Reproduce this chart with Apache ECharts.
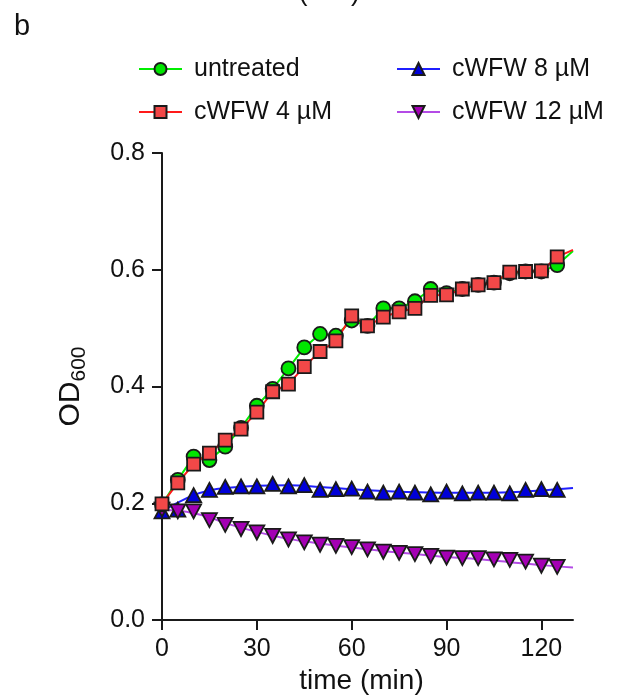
<!DOCTYPE html>
<html>
<head>
<meta charset="utf-8">
<script src="https://cdn.jsdelivr.net/npm/echarts@6/dist/echarts.min.js"></script>
<style>
  html, body { margin: 0; padding: 0; background: #fff; }
  #chart { width: 621px; height: 697px; }
</style>
</head>
<body>
<div id="chart"></div>
<script>
// Sampling times (min) for the measured points
const time = [0, 5, 10, 15, 20, 25, 30, 35, 40, 45, 50, 55, 60, 65, 70, 75, 80, 85, 90, 95, 100, 105, 110, 115, 120, 125];

// Measured OD600 values
const untreated = [0.198, 0.240, 0.280, 0.274, 0.297, 0.329, 0.367, 0.396, 0.431, 0.467, 0.490, 0.487, 0.513, 0.504, 0.534, 0.534, 0.546, 0.567, 0.560, 0.567, 0.574, 0.578, 0.594, 0.597, 0.597, 0.608];
const cwfw4 = [0.199, 0.235, 0.267, 0.286, 0.308, 0.327, 0.356, 0.391, 0.404, 0.434, 0.460, 0.478, 0.521, 0.504, 0.519, 0.528, 0.534, 0.556, 0.557, 0.567, 0.574, 0.578, 0.596, 0.597, 0.598, 0.622];
const cwfw8 = [0.186, 0.189, 0.214, 0.223, 0.228, 0.229, 0.229, 0.233, 0.229, 0.231, 0.223, 0.224, 0.225, 0.220, 0.218, 0.220, 0.218, 0.215, 0.220, 0.217, 0.218, 0.218, 0.217, 0.223, 0.224, 0.223];
const cwfw12 = [0.189, 0.186, 0.186, 0.171, 0.163, 0.156, 0.150, 0.144, 0.138, 0.133, 0.129, 0.127, 0.125, 0.121, 0.117, 0.115, 0.113, 0.110, 0.107, 0.106, 0.106, 0.104, 0.103, 0.100, 0.093, 0.091];

// Trend curves (to 130 min)
const curveTime = [0, 5, 10, 15, 20, 30, 40, 50, 60, 70, 80, 90, 100, 110, 120, 130];
const curve8 = [0.186, 0.201, 0.214, 0.222, 0.226, 0.230, 0.231, 0.228, 0.224, 0.221, 0.219, 0.218, 0.218, 0.219, 0.222, 0.226];
const curve12 = [0.189, 0.187, 0.183, 0.176, 0.166, 0.151, 0.139, 0.131, 0.124, 0.118, 0.113, 0.108, 0.104, 0.099, 0.094, 0.090];
const endTime = 130;
const untreatedEnd = 0.632;
const cwfw4End = 0.634;

// Axis ticks
const xTicks = [0, 30, 60, 90, 120];
const yTicks = [0, 0.2, 0.4, 0.6, 0.8];

const names = ['untreated', 'cWFW 4 \u00B5M', 'cWFW 8 \u00B5M', 'cWFW 12 \u00B5M'];

const FONT = '"Liberation Sans", Arial, Helvetica, sans-serif';
const INK = '#111';
const pairs = (xs, ys) => xs.map((x, i) => [x, ys[i]]);
const withEnd = (ys, endV) => pairs(time, ys).concat([{ value: [endTime, endV], symbol: 'none' }]);
const downTriangle = 'path://M0,0 L14,0 L7,13 Z';

const markerBorder = { borderColor: '#1a1a1a', borderWidth: 1.8 };

const chart = echarts.init(document.getElementById('chart'), null, { renderer: 'canvas' });

const legendBase = {
  orient: 'vertical',
  top: 56,
  padding: 0,
  itemWidth: 43,
  itemHeight: 15,
  itemGap: 17,
  textStyle: { fontFamily: FONT, fontSize: 25, color: INK, lineHeight: 26, padding: [0, 0, 0, 7] }
};

chart.setOption({
  animation: false,
  backgroundColor: '#fff',
  grid: { left: 162, right: 48, top: 153, bottom: 77, containLabel: false, outerBoundsMode: 'none' },
  legend: [
    Object.assign({}, legendBase, {
      left: 138,
      data: [names[0], names[1]]
    }),
    Object.assign({}, legendBase, {
      left: 396,
      data: [
        { name: names[2], lineStyle: { color: '#1f1fff', width: 2, opacity: 1 } },
        { name: names[3], lineStyle: { color: '#b44be6', width: 2, opacity: 1 } }
      ]
    })
  ],
  xAxis: {
    type: 'value',
    min: 0,
    max: endTime,
    name: 'time (min)',
    nameLocation: 'middle',
    nameGap: 45,
    nameTextStyle: { fontFamily: FONT, fontSize: 28, color: INK, padding: [0, 12, 0, 0] },
    axisLine: { show: true, onZero: false, lineStyle: { color: '#1a1a1a', width: 2 } },
    axisTick: { show: true, customValues: xTicks, length: 10, lineStyle: { color: '#1a1a1a', width: 2 } },
    axisLabel: { customValues: xTicks, margin: 17, fontFamily: FONT, fontSize: 25, color: INK },
    splitLine: { show: false }
  },
  yAxis: {
    type: 'value',
    min: 0,
    max: 0.8,
    interval: 0.2,
    name: '{a|OD}{b|600}',
    nameLocation: 'middle',
    nameGap: 76,
    nameTextStyle: {
      fontFamily: FONT, color: INK,
      rich: {
        a: { fontFamily: FONT, fontSize: 30, color: INK },
        b: { fontFamily: FONT, fontSize: 21, color: INK, verticalAlign: 'bottom', padding: [0, 0, -4, 0] }
      }
    },
    axisLine: { show: true, lineStyle: { color: '#1a1a1a', width: 2 } },
    axisTick: { show: true, customValues: yTicks, length: 10, lineStyle: { color: '#1a1a1a', width: 2 } },
    axisLabel: {
      customValues: yTicks, margin: 17, fontFamily: FONT, fontSize: 25, color: INK,
      formatter: v => v.toFixed(1)
    },
    splitLine: { show: false }
  },
  graphic: [
    { type: 'text', left: 14, top: 12, style: { text: 'b', font: '29px ' + FONT, fill: INK } },
    { type: 'text', x: 240, y: 6, style: { text: 'time (min)', font: '27px ' + FONT, fill: INK, textVerticalAlign: 'bottom' } }
  ],
  series: [
    {
      name: 'curve8', type: 'line', smooth: 0.4, symbol: 'none', silent: true,
      data: pairs(curveTime, curve8),
      lineStyle: { color: '#1f1fff', width: 2 }
    },
    {
      name: 'curve12', type: 'line', smooth: 0.4, symbol: 'none', silent: true,
      data: pairs(curveTime, curve12),
      lineStyle: { color: '#b44be6', width: 2 }
    },
    {
      name: names[2], type: 'line',
      data: pairs(time, cwfw8),
      symbol: 'triangle', symbolSize: [15, 14],
      itemStyle: Object.assign({ color: '#0000d8' }, markerBorder),
      lineStyle: { color: '#1f1fff', width: 2, opacity: 0 }
    },
    {
      name: names[3], type: 'line',
      data: pairs(time, cwfw12),
      symbol: downTriangle, symbolSize: [15, 14],
      itemStyle: Object.assign({ color: '#a400b4' }, markerBorder),
      lineStyle: { color: '#b44be6', width: 2, opacity: 0 }
    },
    {
      name: names[0], type: 'line',
      data: withEnd(untreated, untreatedEnd),
      symbol: 'circle', symbolSize: 14,
      itemStyle: Object.assign({ color: '#00e600' }, markerBorder),
      lineStyle: { color: '#00ee00', width: 2 }
    },
    {
      name: names[1], type: 'line',
      data: withEnd(cwfw4, cwfw4End),
      symbol: 'rect', symbolSize: 13,
      itemStyle: Object.assign({ color: '#f24848' }, markerBorder),
      lineStyle: { color: '#ff1a1a', width: 2 }
    }
  ]
});
</script>
</body>
</html>
